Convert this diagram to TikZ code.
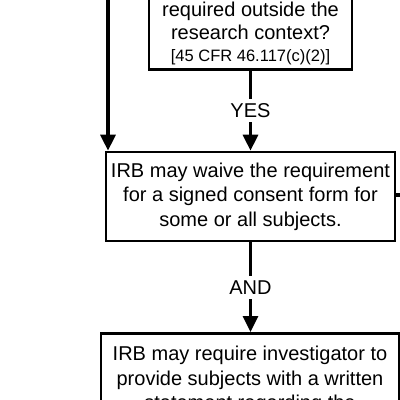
\documentclass[tikz,border=0pt]{standalone}
\usepackage{fontspec}
\setmainfont{Liberation Sans}
\usetikzlibrary{arrows.meta}
\begin{document}
\begin{tikzpicture}[x=1pt,y=-1pt,
  box/.style={draw, line width=2.7pt, rectangle, inner sep=0pt},
  conn/.style={line width=3.2pt, -{Triangle[width=15pt,length=16pt]}},
  plain/.style={line width=3.2pt},
  txt/.style={font=\fontsize{20}{24.5}\selectfont, align=center, inner sep=0pt},
  small/.style={font=\fontsize{16.5}{20}\selectfont, inner sep=0pt},
  lbl/.style={font=\fontsize{20}{24}\selectfont, fill=white, inner xsep=3pt, inner ysep=4.5pt, text height=14.3pt, text depth=0pt}]
\useasboundingbox (0,0) rectangle (400,400);
\clip (0,0) rectangle (400,400);
% top question box (cut by the frame)
\node[box, minimum width=203pt, minimum height=140pt, anchor=south] (q) at (250.5,71) {};
\node[txt, anchor=base] (q1) at (250.5,16.5) {required outside the};
\node[txt, anchor=base] (q2) at (250.5,39.5) {research context?};
\node[small, anchor=base] (q3) at (250.5,61.7) {[45 CFR 46.117(c)(2)]};
% waive box
\node[box, txt, minimum width=289pt, minimum height=89pt] (w) at (250.5,196.5)
  {IRB may waive the requirement\\for a signed consent form for\\some or all subjects.};
% bottom box (cut by the frame)
\node[box, minimum width=298pt, minimum height=140pt, anchor=north] (r) at (250,332) {};
\node[txt, anchor=base] (r1) at (250,360) {IRB may require investigator to};
\node[txt, anchor=base] (r2) at (250,385) {provide subjects with a written};
\node[txt, anchor=base] (r3) at (250,409.5) {statement regarding the};
% connectors
\coordinate (lefttop) at (108,-10);
\coordinate (rightend) at (410,195);
\draw[conn] (lefttop) -- (lefttop |- w.north);
\draw[conn] (q.south -| w.north) -- node[lbl] (yes) {YES} (w.north);
\draw[conn] (w.south) -- node[lbl] (and) {AND} (w.south |- r.north);
\draw[plain] (w.east |- rightend) -- (rightend);
\end{tikzpicture}
\end{document}
